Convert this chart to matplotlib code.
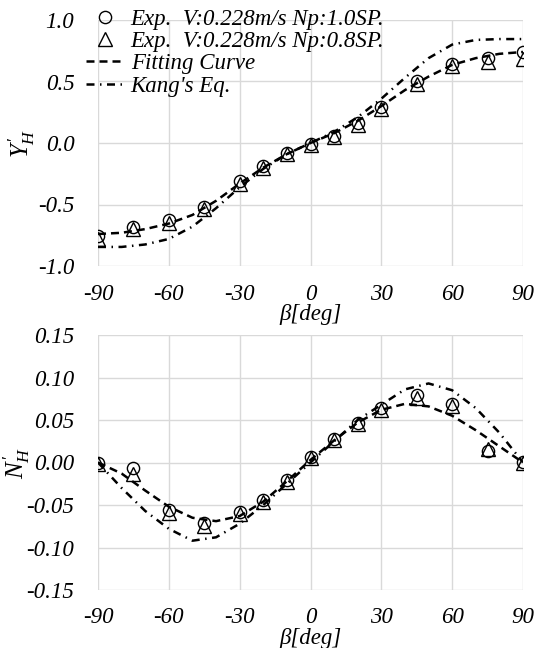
import numpy as np
import matplotlib
matplotlib.use("Agg")
import matplotlib.pyplot as plt
from matplotlib.ticker import FormatStrFormatter

plt.rcParams["font.family"] = ["Liberation Serif", "DejaVu Serif"]
plt.rcParams["font.style"] = "italic"
plt.rcParams["axes.unicode_minus"] = False
plt.rcParams["mathtext.fontset"] = "custom"
plt.rcParams["mathtext.rm"] = "Liberation Serif:italic"
plt.rcParams["mathtext.it"] = "Liberation Serif:italic"

# --- data ---
beta_exp = [-90, -75, -60, -45, -30, -20, -10, 0, 10, 20, 30, 45, 60, 75, 90]
beta_fit = [-90, -80, -70, -60, -50, -40, -30, -20, -10, 0,
            10, 20, 30, 40, 50, 60, 70, 80, 90]

yh_np10 = [-0.76, -0.68, -0.63, -0.52, -0.31, -0.19, -0.08, -0.01,
           0.06, 0.16, 0.29, 0.50, 0.64, 0.69, 0.74]
yh_np08 = [-0.78, -0.70, -0.65, -0.54, -0.33, -0.20, -0.09, -0.02,
           0.05, 0.15, 0.28, 0.48, 0.63, 0.66, 0.68]
yh_fit = [-0.74, -0.73, -0.70, -0.655, -0.585, -0.47, -0.33, -0.20, -0.09, 0.0,
          0.08, 0.18, 0.30, 0.43, 0.54, 0.635, 0.69, 0.725, 0.74]
yh_kang = [-0.845, -0.845, -0.825, -0.78, -0.68, -0.53, -0.36, -0.21, -0.09, 0.0,
           0.09, 0.21, 0.36, 0.53, 0.69, 0.80, 0.838, 0.845, 0.845]

nh_np10 = [0.000, -0.007, -0.056, -0.071, -0.058, -0.044, -0.021, 0.007,
           0.028, 0.047, 0.064, 0.079, 0.069, 0.013, 0.001]
nh_np08 = [-0.002, -0.014, -0.059, -0.075, -0.060, -0.047, -0.023, 0.005,
           0.026, 0.045, 0.062, 0.076, 0.066, 0.016, -0.001]
nh_fit = [0.000, -0.013, -0.033, -0.052, -0.065, -0.069, -0.063, -0.046, -0.022, 0.003,
          0.026, 0.047, 0.062, 0.069, 0.066, 0.055, 0.038, 0.019, 0.000]
nh_kang = [0.000, -0.030, -0.057, -0.078, -0.092, -0.088, -0.072, -0.050, -0.025, 0.0,
           0.025, 0.050, 0.068, 0.086, 0.093, 0.085, 0.064, 0.035, 0.000]

labels = ["Exp.  V:0.228m/s Np:1.0SP.", "Exp.  V:0.228m/s Np:0.8SP.",
          "Fitting Curve", "Kang's Eq."]

FS = 16.5
W, H = 534, 648
fig = plt.figure(figsize=(W / 100, H / 100), dpi=100)


def px_axes(x0, y0, x1, y1):
    return fig.add_axes([x0 / W, 1 - y1 / H, (x1 - x0) / W, (y1 - y0) / H])


def draw(ax, c, t, fit, kang, ylim, yticks, fmt, xpad, lpad):
    ax.plot(beta_exp, c, "o", ms=8.8, mfc="none", mec="black", mew=1.0,
            ls="none", zorder=3, label=labels[0])
    ax.plot(beta_exp, t, "^", ms=9.5, mfc="none", mec="black", mew=1.0,
            ls="none", zorder=3, label=labels[1])
    ax.plot(beta_fit, fit, color="black", lw=1.8, dashes=[3.2, 2.0],
            zorder=4, label=labels[2])
    ax.plot(beta_fit, kang, color="black", lw=1.8, dashes=[3.2, 2.2, 0.6, 2.2],
            zorder=4, label=labels[3])
    ax.set_xlim(-90, 90)
    ax.set_ylim(*ylim)
    ax.set_xticks(np.arange(-90, 91, 30))
    ax.set_yticks(yticks)
    ax.yaxis.set_major_formatter(FormatStrFormatter(fmt))
    ax.grid(True, color="#d9d9d9", lw=1.0)
    ax.set_axisbelow(True)
    for s in ax.spines.values():
        s.set_visible(False)
    ax.tick_params(length=0, labelsize=FS)
    ax.tick_params(axis="y", pad=17)
    ax.tick_params(axis="x", pad=xpad)
    ax.set_xlabel("β[deg]", fontsize=FS, labelpad=lpad)


ax1 = px_axes(98, 20, 523, 266)
draw(ax1, yh_np10, yh_np08, yh_fit, yh_kang, (-1.0, 1.0),
     [-1.0, -0.5, 0.0, 0.5, 1.0], "%.1f", 13, -0.5)
ax1.set_ylabel(r"$Y_{H}^{\prime}$", fontsize=18)
ax1.yaxis.set_label_coords(-0.143, 0.5)

ax2 = px_axes(98, 335, 523, 590)
draw(ax2, nh_np10, nh_np08, nh_fit, nh_kang, (-0.15, 0.15),
     [-0.15, -0.10, -0.05, 0.0, 0.05, 0.10, 0.15], "%.2f", 12, 0)
ax2.set_ylabel(r"$N_{H}^{\prime}$", fontsize=18)
ax2.yaxis.set_label_coords(-0.156, 0.5)

handles, labs = ax1.get_legend_handles_labels()
leg = fig.legend(handles, labs, loc="upper left",
                 bbox_to_anchor=(86 / W, 1 - 9 / H), frameon=False,
                 fontsize=FS, handlelength=1.7, handletextpad=0.25,
                 labelspacing=0.05, borderpad=0.0, borderaxespad=0.0)

fig.savefig("out.png", dpi=100)
